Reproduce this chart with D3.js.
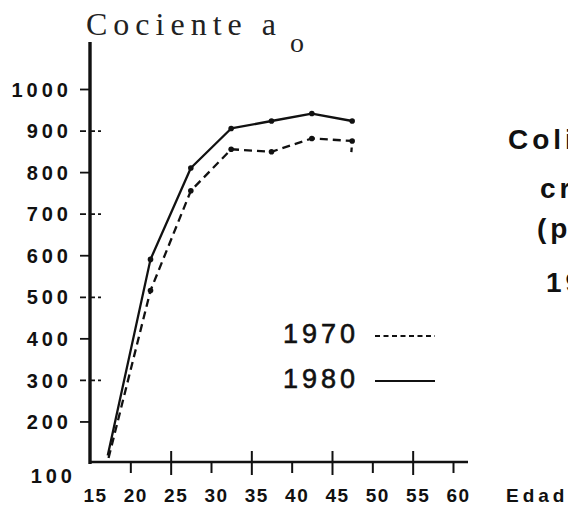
<!DOCTYPE html>
<html>
<head>
<meta charset="utf-8">
<script src="https://cdn.jsdelivr.net/npm/d3@7"></script>
<style>
  html, body { margin: 0; padding: 0; background: #fff; }
  svg { display: block; }
</style>
</head>
<body>
<svg id="chart" width="568" height="513"></svg>
<script>
// Age (years) and cociente a0 values for each census
const ages1980 = [17.2, 22.5, 27.5, 32.5, 37.5, 42.5, 47.5];
const values1980 = [118, 590, 810, 905, 923, 941, 923];
const ages1970 = [17.3, 22.5, 27.5, 32.5, 37.5, 42.5, 47.5, 47.4];
const values1970 = [112, 515, 755, 855, 849, 881, 875, 848];
const dotted1970 = [true, true, true, true, true, true, true, false];

const xTicks = [15, 20, 25, 30, 35, 40, 45, 50, 55, 60];
const yTicks = [100, 200, 300, 400, 500, 600, 700, 800, 900, 1000];
const legendYears = ["1970", "1980"];
const sideText = ["Coli", "cr", "(p", "19"];

const svg = d3.select("#chart");
const ink = "#111";

const x = d3.scaleLinear().domain([15, 60]).range([90, 453]);
const y = d3.scaleLinear().domain([100, 1000]).range([463, 89]);

// Title
svg.append("text")
  .attr("x", 86).attr("y", 35)
  .attr("font-family", "Liberation Serif, serif")
  .attr("font-size", 32)
  .attr("letter-spacing", 6)
  .attr("fill", "#222")
  .text("Cociente a");
svg.append("text")
  .attr("x", 290).attr("y", 52)
  .attr("font-family", "Liberation Serif, serif")
  .attr("font-size", 28)
  .attr("fill", "#222")
  .text("o");

// Y axis
const yAxis = d3.axisLeft(y).tickValues(yTicks).tickSize(0).tickPadding(0)
  .tickFormat(d3.format("d"));
const gy = svg.append("g").attr("transform", "translate(90,0)").call(yAxis);
gy.select(".domain").remove();
gy.selectAll(".tick text")
  .attr("x", d => (d === 100 ? -14 : -18))
  .attr("dy", d => (d === 100 ? "0.95em" : "0.36em"))
  .attr("font-family", "Liberation Sans, Arial, sans-serif")
  .attr("font-weight", "bold")
  .attr("font-size", 20)
  .attr("letter-spacing", 4)
  .attr("fill", ink);
gy.selectAll(".tick").filter(d => d !== 100).append("line")
  .attr("x1", -10)
  .attr("x2", d => (Math.round(d / 100) % 2 === 1 ? 11 : 0))
  .attr("stroke", ink).attr("stroke-width", 1.8)
  .attr("stroke-dasharray", d => (Math.round(d / 100) % 2 === 1 ? "6,3" : null));
svg.append("line")
  .attr("x1", 90).attr("x2", 90).attr("y1", 42).attr("y2", 464)
  .attr("stroke", ink).attr("stroke-width", 3.4);

// X axis
const xAxis = d3.axisBottom(x).tickValues(xTicks).tickSize(0).tickPadding(0);
const gx = svg.append("g").attr("transform", "translate(0,462)").call(xAxis);
gx.select(".domain").remove();
gx.selectAll(".tick text")
  .attr("dx", 5)
  .attr("y", 27)
  .attr("font-family", "Liberation Sans, Arial, sans-serif")
  .attr("font-weight", "bold")
  .attr("font-size", 19)
  .attr("letter-spacing", 1.5)
  .attr("fill", ink);
gx.selectAll(".tick").filter(d => d !== 15).append("line")
  .attr("y1", d => (d % 10 === 5 ? -11 : 0))
  .attr("y2", d => (d % 10 === 5 ? 13 : 11))
  .attr("stroke", ink).attr("stroke-width", 2);
svg.append("line")
  .attr("x1", 89).attr("x2", 468).attr("y1", 462).attr("y2", 462)
  .attr("stroke", ink).attr("stroke-width", 2.4);

svg.append("text")
  .attr("x", 506).attr("y", 502)
  .attr("font-family", "Liberation Sans, Arial, sans-serif")
  .attr("font-weight", "bold")
  .attr("font-size", 19)
  .attr("letter-spacing", 4)
  .attr("fill", ink)
  .text("Edad");

// Series
const line = d3.line().x(d => x(d[0])).y(d => y(d[1]));
const pts1980 = ages1980.map((a, i) => [a, values1980[i]]);
const pts1970 = ages1970.map((a, i) => [a, values1970[i]]);

svg.append("path").datum(pts1980)
  .attr("d", line).attr("fill", "none")
  .attr("stroke", ink).attr("stroke-width", 2.3)
  .attr("stroke-linejoin", "round");
svg.append("path").datum(pts1970)
  .attr("d", line).attr("fill", "none")
  .attr("stroke", ink).attr("stroke-width", 2.3)
  .attr("stroke-dasharray", "8,5");

svg.selectAll(".dot80").data(pts1980.slice(1)).join("circle")
  .attr("cx", d => x(d[0])).attr("cy", d => y(d[1])).attr("r", 2.8)
  .attr("fill", ink);
svg.selectAll(".dot70").data(pts1970.filter((d, i) => dotted1970[i] && i > 0)).join("circle")
  .attr("cx", d => x(d[0])).attr("cy", d => y(d[1])).attr("r", 2.8)
  .attr("fill", ink);

// Legend
const legend = svg.append("g");
legendYears.forEach((yr, i) => {
  const cy = 333 + i * 45;
  legend.append("text")
    .attr("x", 283).attr("y", cy + 10)
    .attr("font-family", "Liberation Sans, Arial, sans-serif")
    .attr("font-size", 27)
    .attr("letter-spacing", 4)
    .attr("fill", ink)
    .attr("stroke", ink).attr("stroke-width", 0.6)
    .text(yr);
  legend.append("line")
    .attr("x1", 375).attr("x2", 435).attr("y1", cy + 3).attr("y2", cy + 3)
    .attr("stroke", ink).attr("stroke-width", 2)
    .attr("stroke-dasharray", i === 0 ? "5,3.5" : null);
});

// Side caption
const sideX = [508, 540, 537, 546];
const sideY = [149, 198, 238, 292];
sideText.forEach((t, i) => {
  svg.append("text")
    .attr("x", sideX[i]).attr("y", sideY[i])
    .attr("font-family", "Liberation Sans, Arial, sans-serif")
    .attr("font-weight", "bold")
    .attr("font-size", 28)
    .attr("letter-spacing", 4)
    .attr("fill", ink)
    .text(t);
});
</script>
</body>
</html>
